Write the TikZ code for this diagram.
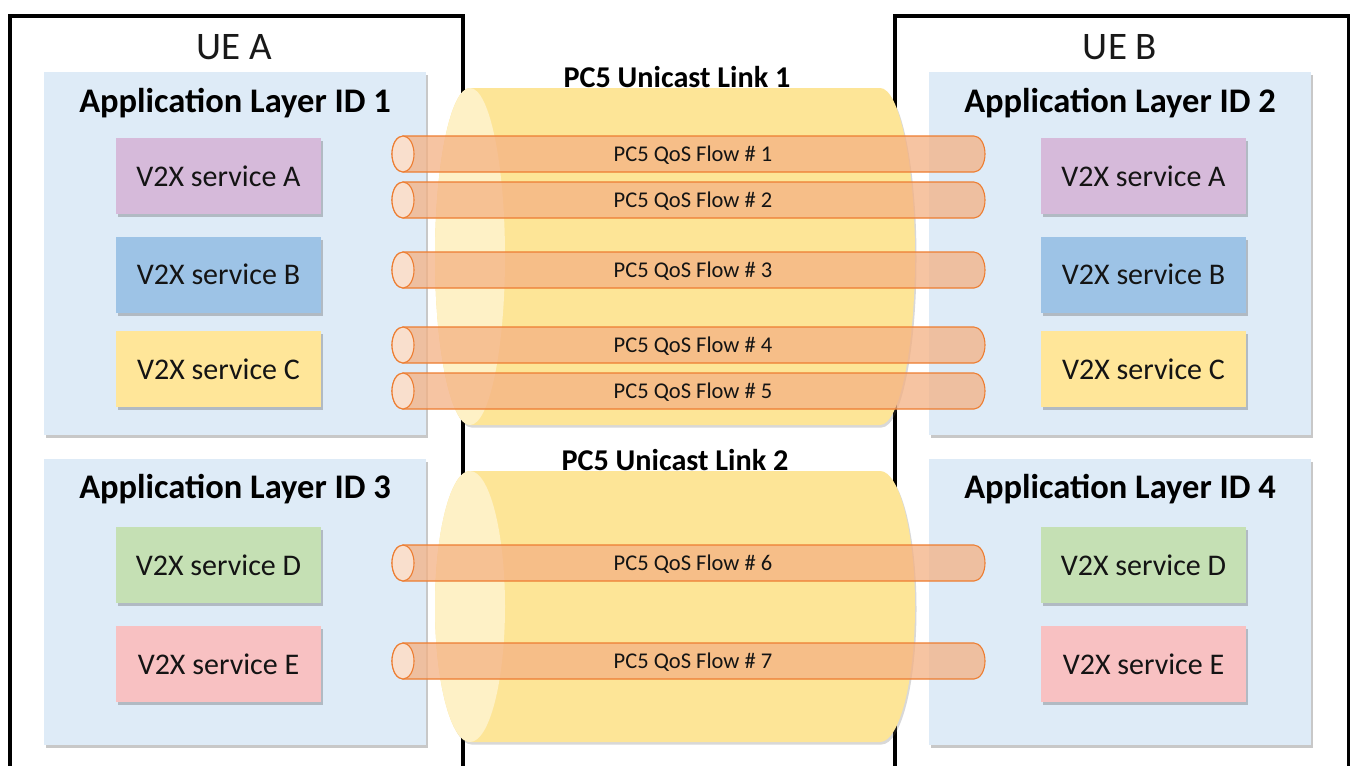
\documentclass[tikz,border=0pt]{standalone}
\usepackage{fontspec}
\setmainfont{Carlito}
\usetikzlibrary{shadows}
\definecolor{appfill}{HTML}{DEEBF7}
\definecolor{svcA}{HTML}{D6BADA}
\definecolor{svcB}{HTML}{9DC3E6}
\definecolor{svcC}{HTML}{FFE699}
\definecolor{svcD}{HTML}{C5E0B4}
\definecolor{svcE}{HTML}{F8C1C2}
\definecolor{cylbodyc}{HTML}{FDE597}
\definecolor{cylfacec}{HTML}{FEF1C6}
\definecolor{tubec}{HTML}{F4B183}
\definecolor{tubeline}{HTML}{ED7D31}
\definecolor{tubefacec}{HTML}{FBE5D6}
\newcommand\flowtube[3]{%
  \path[tubebody] (403,#2-18) -- (974,#2-18)
    .. controls (980.08,#2-18) and (985,#2-9.94) .. (985,#2)
    .. controls (985,#2+9.94) and (980.08,#2+18) .. (974,#2+18)
    -- (403,#2+18)
    .. controls (396.92,#2+18) and (392,#2+9.94) .. (392,#2)
    .. controls (392,#2-9.94) and (396.92,#2-18) .. (403,#2-18) -- cycle;
  \path[tubeface] (403,#2) ellipse[x radius=11,y radius=18];
  \node[flowtext] (#1) at (693,#2+1) {#3};
}
\newcommand\linkcyl[3]{%
  \path[cylbody] (470,#2-#3) -- (880,#2-#3)
    .. controls (899.33,#2-#3) and (915,#2-0.5523*#3) .. (915,#2)
    .. controls (915,#2+0.5523*#3) and (899.33,#2+#3) .. (880,#2+#3)
    -- (470,#2+#3)
    .. controls (450.67,#2+#3) and (435,#2+0.5523*#3) .. (435,#2)
    .. controls (435,#2-0.5523*#3) and (450.67,#2-#3) .. (470,#2-#3) -- cycle;
  \path[cylface] (470,#2) ellipse[x radius=35,y radius=#3];
  \coordinate (#1) at (675,#2);
}
\begin{document}
\begin{tikzpicture}[x=1pt,y=-1pt,
  softshadow/.style={drop shadow={shadow xshift=2pt,shadow yshift=-3pt,opacity=0.3,fill=black!70}},
  uebox/.style={draw=black,line width=4pt,fill=white,anchor=north west,inner sep=0pt,
    drop shadow={shadow xshift=1.5pt,shadow yshift=-1.5pt,opacity=0.25,fill=black!60}},
  uetitle/.style={font=\fontsize{39}{44}\selectfont,text=black!90},
  appbox/.style={fill=appfill,anchor=north west,inner sep=0pt,softshadow},
  apptitle/.style={font=\fontsize{34.5}{40}\selectfont\bfseries,text=black},
  svc/.style={minimum width=205,minimum height=76,inner sep=0pt,softshadow,
    font=\fontsize{30}{34}\selectfont,text=black!92},
  cylbody/.style={fill=cylbodyc,drop shadow={shadow xshift=1.5pt,shadow yshift=-2.5pt,opacity=0.25,fill=black!60}},
  cylface/.style={fill=cylfacec},
  linktitle/.style={font=\fontsize{30.2}{34}\selectfont\bfseries,text=black},
  tubebody/.style={fill=tubec,fill opacity=0.75,draw=tubeline,line width=1.1pt},
  tubeface/.style={fill=tubefacec,fill opacity=0.85,draw=tubeline,line width=1.1pt},
  flowtext/.style={font=\fontsize{22.5}{26}\selectfont,text=black!92}
]
\useasboundingbox (0,0) rectangle (1350,766);
\fill[white] (0,0) rectangle (1350,766);

% UE boxes (open at the bottom, extend beyond the page)
\node[uebox,minimum width=453,minimum height=790] (ueA) at (8,14) {};
\node[uebox,minimum width=454,minimum height=790] (ueB) at (893,14) {};
\node[uetitle] (ueAt) at (234,47) {UE A};
\node[uetitle] (ueBt) at (1120,47) {UE B};

% Application layer boxes
\node[appbox,minimum width=382,minimum height=363] (app1) at (44,72) {};
\node[appbox,minimum width=382,minimum height=286] (app3) at (44,459) {};
\node[appbox,minimum width=382,minimum height=363] (app2) at (929,72) {};
\node[appbox,minimum width=382,minimum height=286] (app4) at (929,459) {};
\node[apptitle] (app1t) at (235,103) {Application Layer ID 1};
\node[apptitle] (app3t) at (235,489) {Application Layer ID 3};
\node[apptitle] (app2t) at (1120,103) {Application Layer ID 2};
\node[apptitle] (app4t) at (1120,489) {Application Layer ID 4};

% V2X services
\node[svc,fill=svcA] (lA) at (218.5,176) {V2X service A};
\node[svc,fill=svcB] (lB) at (218.5,274.5) {V2X service B};
\node[svc,fill=svcC] (lC) at (218.5,369) {V2X service C};
\node[svc,fill=svcD] (lD) at (218.5,565) {V2X service D};
\node[svc,fill=svcE] (lE) at (218.5,664) {V2X service E};
\node[svc,fill=svcA] (rA) at (1143.5,176) {V2X service A};
\node[svc,fill=svcB] (rB) at (1143.5,274.5) {V2X service B};
\node[svc,fill=svcC] (rC) at (1143.5,369) {V2X service C};
\node[svc,fill=svcD] (rD) at (1143.5,565) {V2X service D};
\node[svc,fill=svcE] (rE) at (1143.5,664) {V2X service E};

% PC5 unicast links
\linkcyl{link1}{256.5}{168.5}
\linkcyl{link2}{606.5}{135.5}
\node[linktitle] (link1t) at (677,77) {PC5 Unicast Link 1};
\node[linktitle] (link2t) at (675,460) {PC5 Unicast Link 2};

% PC5 QoS flows
\flowtube{f1}{154}{PC5 QoS Flow \# 1}
\flowtube{f2}{200}{PC5 QoS Flow \# 2}
\flowtube{f3}{270}{PC5 QoS Flow \# 3}
\flowtube{f4}{345}{PC5 QoS Flow \# 4}
\flowtube{f5}{391}{PC5 QoS Flow \# 5}
\flowtube{f6}{563}{PC5 QoS Flow \# 6}
\flowtube{f7}{661}{PC5 QoS Flow \# 7}
\end{tikzpicture}
\end{document}
